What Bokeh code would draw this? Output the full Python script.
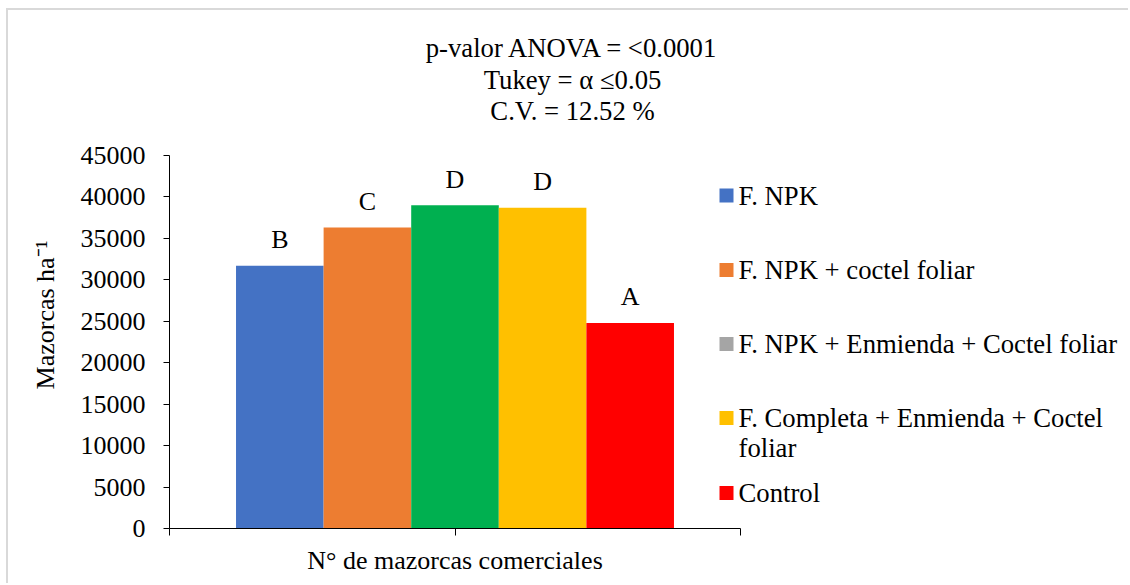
from bokeh.plotting import figure
from bokeh.models import Range1d, FixedTicker, ColumnDataSource
from bokeh.embed import file_html
from bokeh.resources import INLINE
from bokeh.core.properties import value

# ---- data ----
treatments = ["F. NPK", "F. NPK + coctel foliar", "F. NPK + Enmienda + Coctel foliar",
              "F. Completa + Enmienda + Coctel foliar", "Control"]
mazorcas = [31700, 36300, 39000, 38700, 24800]
tukey = ["B", "C", "D", "D", "A"]
bar_colors = ["#4472C4", "#ED7D31", "#00B050", "#FFC000", "#FF0000"]
legend_colors = ["#4472C4", "#ED7D31", "#A5A5A5", "#FFC000", "#FF0000"]
y_ticks = [0, 5000, 10000, 15000, 20000, 25000, 30000, 35000, 40000, 45000]
title_lines = ["p-valor ANOVA = <0.0001", "Tukey = \u03b1 \u22640.05", "C.V. = 12.52 %"]
category = "N\u00b0 de mazorcas comerciales"
y_label = "Mazorcas ha\u207b\u00b9"

FONT = "Liberation Serif"
FS = "26px"
FS_T = "26.7px"

# canvas origin on page: (8, 10)
OX, OY = 8, 10
W, H = 1122, 575
AX_L, AX_B, AX_R, AX_T = 169, 528, 740, 155   # page coords of the value axes
FL = AX_L - OX
FB = AX_B - OY
PX_X = AX_R - AX_L
PX_Y = AX_B - AX_T
x_end = (W - FL) / PX_X
y_end = FB / PX_Y * 45000

p = figure(width=W, height=H, output_backend="svg", toolbar_location=None,
           x_range=Range1d(0, x_end), y_range=Range1d(0, y_end),
           min_border_left=FL, min_border_top=0,
           min_border_right=0, min_border_bottom=H - FB)
p.styles = {"margin-left": "6px", "margin-top": "8px",
            "border-left": "2px solid #d9d9d9", "border-top": "2px solid #d9d9d9"}
p.title = None
p.outline_line_color = None
p.xgrid.visible = False
p.ygrid.visible = False
p.background_fill_color = "white"
p.border_fill_color = "white"


def dx(page_x):
    return (page_x - AX_L) / PX_X


def dy(page_y):
    return (AX_B - page_y) / PX_Y * 45000


TXT = dict(text_font=value(FONT), text_font_size=FS, text_color="black")
TXT_T = dict(text_font=value(FONT), text_font_size=FS_T, text_color="black")

# bars
bar_w = 0.1534
n = len(mazorcas)
xs = [0.5 + (i - (n - 1) / 2) * bar_w for i in range(n)]
for i in range(n):
    p.vbar(x=[xs[i]], top=[mazorcas[i]], bottom=0, width=bar_w,
           fill_color=bar_colors[i], line_color=None)

# Tukey letters
src = ColumnDataSource(dict(x=xs, y=mazorcas, t=tukey))
p.text(x="x", y="y", text="t", source=src, text_align="center",
       text_baseline="alphabetic", y_offset=-26, **TXT)

# axes
ya = p.yaxis[0]
ya.bounds = (0, 45000)
ya.ticker = FixedTicker(ticks=y_ticks)
ya.minor_tick_line_color = None
ya.major_tick_in = 0
ya.major_tick_out = 6
ya.axis_line_color = "black"
ya.major_tick_line_color = "black"
ya.major_label_text_font = FONT
ya.major_label_text_font_size = FS
ya.major_label_text_color = "black"
ya.major_label_standoff = 18
ya.axis_label = y_label + "\u00a0" * 14
ya.axis_label_text_font = FONT
ya.axis_label_text_font_size = FS
ya.axis_label_text_font_style = "normal"
ya.axis_label_text_color = "black"
ya.axis_label_standoff = 18

xa = p.xaxis[0]
xa.bounds = (0, 1)
xa.ticker = FixedTicker(ticks=[0, 0.5, 1])
xa.major_label_overrides = {0: "", 0.5: category, 1: ""}
xa.major_label_text_font = FONT
xa.major_label_text_font_size = FS
xa.major_label_text_color = "black"
xa.major_label_standoff = 10
xa.minor_tick_line_color = None
xa.major_tick_in = 0
xa.major_tick_out = 7
xa.axis_line_color = "black"
xa.major_tick_line_color = "black"

# chart title lines
p.text(x=[dx(572)] * len(title_lines), y=[dy(v) for v in (47, 79, 110)],
       text=title_lines, text_align="center", text_baseline="middle", **TXT_T)

# legend: swatches and labels (the 4th entry wraps onto a second line)
sw_centers = [195, 269.5, 343.5, 417.5, 492.5]
p.scatter(x=[dx(726)] * n, y=[dy(v) for v in sw_centers], marker="square", size=14,
          fill_color=legend_colors, line_color=None)
leg_lines = ["F. NPK", "F. NPK + coctel foliar", "F. NPK + Enmienda + Coctel foliar",
             "F. Completa + Enmienda + Coctel", "foliar", "Control"]
leg_mid = [195, 269.5, 343.5, 417.5, 447.5, 492.5]
p.text(x=[dx(738)] * len(leg_lines), y=[dy(v) for v in leg_mid], text=leg_lines,
       text_align="left", text_baseline="middle", **TXT_T)

open("out.html", "w").write(file_html(p, INLINE))
